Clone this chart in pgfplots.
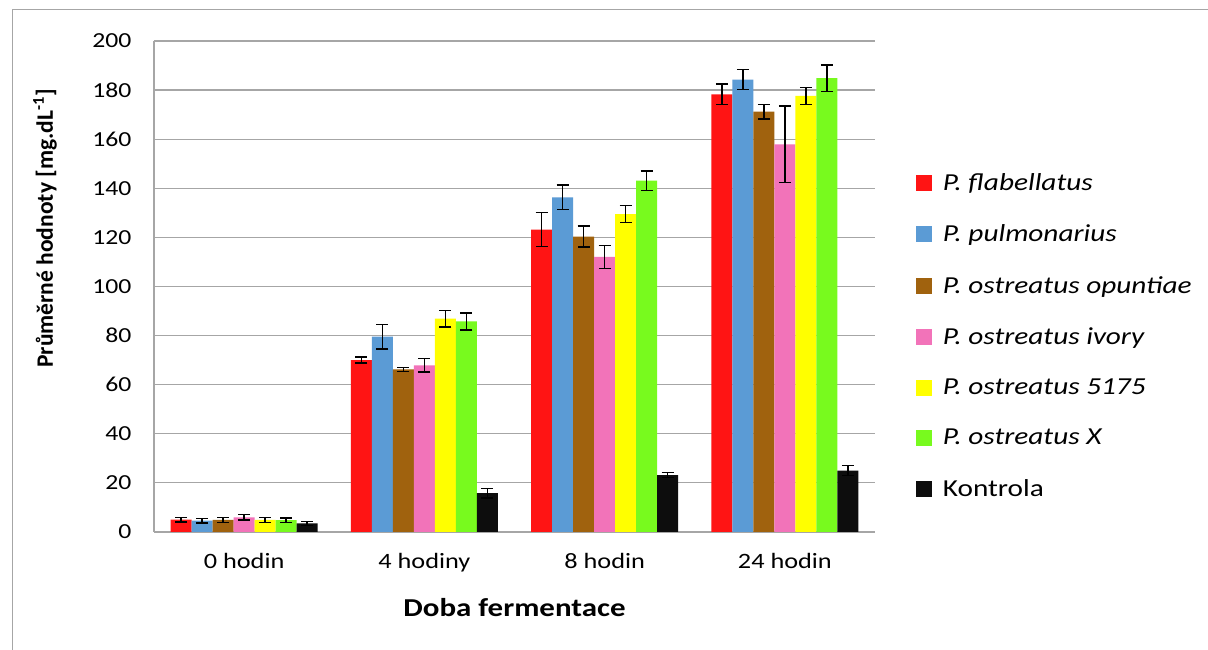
\documentclass[border=0pt]{standalone}
\usepackage{fontspec}
\setmainfont{Carlito}[FakeStretch=1.2]
\newfontfamily\plainfont{Carlito}
\usepackage{pgfplots}
\pgfplotsset{compat=1.18}
\definecolor{cRed}{RGB}{255,20,20}
\definecolor{cBlue}{RGB}{91,155,213}
\definecolor{cBrown}{RGB}{160,98,14}
\definecolor{cPink}{RGB}{242,115,185}
\definecolor{cYellow}{RGB}{255,255,0}
\definecolor{cGreen}{RGB}{120,250,30}
\definecolor{cBlack}{RGB}{13,13,13}
\definecolor{gridgray}{RGB}{166,166,166}
\pgfplotsset{
  errstyle/.style={error bars/.cd, y dir=both, y explicit,
    error bar style={black, line width=1.5pt},
    error mark options={rotate=90, mark size=6pt, line width=1.5pt, black}},
}
\begin{document}
\begin{tikzpicture}[x=1pt,y=1pt]
\useasboundingbox (0,0) rectangle (1208,650);
\fill[white] (0,0) rectangle (1208,650);
\draw[gridgray, line width=1pt] (12,0) -- (12,640) -- (1208,640);
\begin{axis}[
  at={(154pt,118pt)}, anchor=south west,
  scale only axis, width=721pt, height=491pt,
  ymin=0, ymax=200, ytick={0,20,...,200},
  xmin=-0.5, xmax=3.5, xtick={0,1,2,3},
  xticklabels={0 hodin, 4 hodiny, 8 hodin, 24 hodin},
  ybar=0pt, bar width=21pt,
  axis x line*=bottom, axis y line*=left,
  ymajorgrids, grid style={gridgray, line width=1.2pt},
  major tick length=0pt,
  axis line style={gridgray, line width=1.2pt},
  /pgf/number format/assume math mode=true,
  yticklabel style={font=\fontsize{21.4}{25}\selectfont, xshift=-19pt},
  xticklabel style={font=\fontsize{21.9}{26}\selectfont, yshift=-18pt},
  ylabel={Průměrné hodnoty [mg.dL\textsuperscript{-1}]},
  ylabel style={at={(axis description cs:-0.151,0.618)}, anchor=center, font=\plainfont\bfseries\fontsize{23.5}{28}\selectfont},
  xlabel={Doba fermentace},
  xlabel style={at={(axis description cs:0.5,-0.153)}, anchor=center, font=\bfseries\fontsize{25.8}{30}\selectfont},
  legend style={at={(1.053,0.40)}, anchor=west, draw=none, fill=none,
    font=\itshape\fontsize{24.4}{29}\selectfont, row sep=29pt,
    nodes={inner xsep=10.5pt}},
  legend cell align=left,
  legend image code/.code={\fill[#1] (0pt,-8pt) rectangle (16pt,8pt);},
]
\addplot[fill=cRed, draw=none, errstyle] coordinates {(0,5) +- (0,1) (1,70) +- (0,1.2) (2,123.2) +- (0,7) (3,178.3) +- (0,4.1)};
\addplot[fill=cBlue, draw=none, errstyle] coordinates {(0,4.6) +- (0,0.9) (1,79.6) +- (0,5) (2,136.3) +- (0,5) (3,184.3) +- (0,4)};
\addplot[fill=cBrown, draw=none, errstyle] coordinates {(0,4.9) +- (0,1) (1,66.2) +- (0,0.8) (2,120.3) +- (0,4.3) (3,171.2) +- (0,3)};
\addplot[fill=cPink, draw=none, errstyle] coordinates {(0,6) +- (0,1.1) (1,67.9) +- (0,2.7) (2,112.1) +- (0,4.7) (3,157.9) +- (0,15.6)};
\addplot[fill=cYellow, draw=none, errstyle] coordinates {(0,4.9) +- (0,1) (1,86.9) +- (0,3.3) (2,129.5) +- (0,3.5) (3,177.6) +- (0,3.4)};
\addplot[fill=cGreen, draw=none, errstyle] coordinates {(0,4.8) +- (0,1) (1,85.8) +- (0,3.5) (2,143.1) +- (0,4) (3,184.9) +- (0,5.4)};
\addplot[fill=cBlack, draw=none, errstyle] coordinates {(0,3.5) +- (0,0.8) (1,15.8) +- (0,2) (2,23.2) +- (0,1) (3,25) +- (0,2)};
\legend{P. flabellatus, P. pulmonarius, P. ostreatus opuntiae, P. ostreatus ivory, P. ostreatus 5175, P. ostreatus X, \upshape Kontrola}
\end{axis}
\end{tikzpicture}
\end{document}
